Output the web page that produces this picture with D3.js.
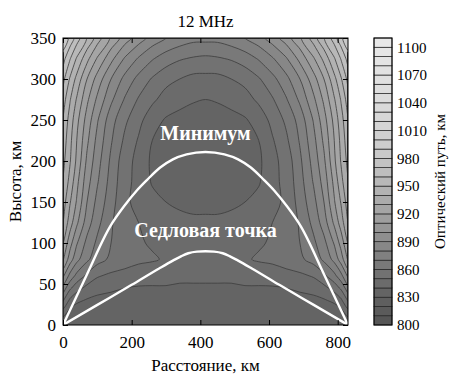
<!DOCTYPE html>
<html><head><meta charset="utf-8">
<script src="https://cdn.jsdelivr.net/npm/d3@7"></script>
<style>
  body { margin: 0; background: #fff; }
  svg text { font-family: "Liberation Serif", "Times New Roman", serif; }
</style>
</head><body>
<svg id="chart" width="449" height="376"></svg>
<script>
// grid columns (distance, km) and rows (height, km)
const distKm = [0, 20, 40, 70, 100, 140, 180, 220, 260, 300, 340, 380, 415, 450, 490, 530, 570, 610, 650, 690, 730, 760, 790, 810, 830];
const heightKm = [0, 15, 30, 45, 60, 80, 100, 125, 150, 175, 200, 225, 250, 275, 300, 325, 350];

// optical path (km), one array per height row
const path000 = [830, 830, 830, 830, 830, 830, 830, 830, 830, 830, 830, 830, 830, 830, 830, 830, 830, 830, 830, 830, 830, 830, 830, 830, 830];
const path015 = [845, 836, 834, 833, 832, 832, 832, 832, 832, 832, 832, 832, 832, 832, 832, 832, 832, 832, 832, 832, 832, 833, 834, 836, 845];
const path030 = [861, 848, 842, 839, 837, 836, 835, 835, 835, 835, 835, 835, 835, 835, 835, 835, 835, 835, 835, 836, 837, 839, 842, 848, 861];
const path045 = [876, 862, 854, 847, 844, 842, 840, 839, 839, 839, 838, 838, 838, 838, 838, 839, 839, 839, 840, 842, 844, 847, 854, 862, 876];
const path060 = [892, 877, 867, 858, 851, 848, 847, 845, 844, 844, 843, 843, 843, 843, 843, 844, 844, 845, 847, 848, 851, 858, 867, 877, 892];
const path080 = [911, 895, 883, 872, 864, 858, 854, 852, 851, 849, 849, 848, 848, 848, 849, 849, 851, 852, 854, 858, 864, 872, 883, 895, 911];
const path100 = [920, 904, 891, 877, 868, 860, 855, 851, 849, 848, 847, 846, 846, 846, 847, 848, 849, 851, 855, 860, 868, 877, 891, 904, 920];
const path125 = [930, 915, 902, 885, 873, 861, 854, 850, 846, 844, 843, 842, 842, 842, 843, 844, 846, 850, 854, 861, 873, 885, 902, 915, 930];
const path150 = [935, 921, 909, 890, 877, 864, 852, 847, 843, 840, 838, 837, 837, 837, 838, 840, 843, 847, 852, 864, 877, 890, 909, 921, 935];
const path175 = [939, 927, 913, 894, 881, 866, 853, 847, 839, 838, 836, 834, 834, 834, 836, 838, 839, 847, 853, 866, 881, 894, 913, 927, 939];
const path200 = [943, 931, 918, 898, 884, 868, 854, 847, 838, 837, 835, 833, 833, 833, 835, 837, 838, 847, 854, 868, 884, 898, 918, 931, 943];
const path225 = [946, 933, 920, 902, 887, 871, 858, 849, 840, 838, 835, 833, 833, 833, 835, 838, 840, 849, 858, 871, 887, 902, 920, 933, 946];
const path250 = [949, 936, 923, 906, 891, 874, 862, 853, 844, 839, 837, 835, 835, 835, 837, 839, 844, 853, 862, 874, 891, 906, 923, 936, 949];
const path275 = [955, 941, 929, 912, 898, 882, 869, 859, 852, 846, 843, 841, 840, 841, 843, 846, 852, 859, 869, 882, 898, 912, 929, 941, 955];
const path300 = [963, 949, 937, 920, 906, 890, 877, 867, 859, 853, 850, 847, 847, 847, 850, 853, 859, 867, 877, 890, 906, 920, 937, 949, 963];
const path325 = [974, 961, 949, 933, 919, 903, 889, 879, 871, 865, 861, 859, 858, 859, 861, 865, 871, 879, 889, 903, 919, 933, 949, 961, 974];
const path350 = [989, 977, 965, 949, 935, 918, 905, 895, 886, 880, 876, 873, 873, 873, 876, 880, 886, 895, 905, 918, 935, 949, 965, 977, 989];

// the two rays (white curves)
const highRayX = [0, 70, 137, 180, 215, 245, 283, 320, 360, 415, 470, 510, 547, 585, 615, 650, 693, 760, 830];
const highRayH = [0, 62, 120, 146, 164, 177, 192, 202, 208, 211, 208, 202, 192, 177, 164, 146, 120, 62, 0];
const lowRayX = [0, 100, 200, 280, 320, 345, 365, 390, 415, 440, 465, 485, 510, 550, 630, 730, 830];
const lowRayH = [0, 24.5, 49, 69, 78.5, 84, 87.5, 89.5, 90, 89.5, 87.5, 84, 78.5, 69, 49, 24.5, 0];

// axes and colour bar
const xTicks = [0, 200, 400, 600, 800];
const yTicks = [0, 50, 100, 150, 200, 250, 300, 350];
const barTicks = [800, 830, 860, 890, 920, 950, 980, 1010, 1040, 1070, 1100];
const levelStep = 10;
const levelMin = 800, levelMax = 1110;

const margin = { top: 38, right: 101, bottom: 51, left: 63 };
const W = 449, H = 376;
const width = W - margin.left - margin.right;
const height = H - margin.top - margin.bottom;

const svg = d3.select("#chart");

const x = d3.scaleLinear().domain([0, 830]).range([margin.left, margin.left + width]);
const y = d3.scaleLinear().domain([0, 350]).range([margin.top + height, margin.top]);

// grid index -> km (the grid is not evenly spaced)
const colToKm = d3.scaleLinear().domain(d3.range(distKm.length)).range(distKm).clamp(true);
const rowToKm = d3.scaleLinear().domain(d3.range(heightKm.length)).range(heightKm).clamp(true);

const grey = d3.scaleLinear()
  .domain([800, 830, 840, 850, 860, 880, 900, 920, 950, 980, 1010, 1050, 1100])
  .range([86, 100, 107, 114, 121, 135, 150, 165, 184, 201, 212, 222, 232]);
const fillOf = v => { const g = Math.round(grey(v)); return `rgb(${g},${g},${g})`; };

const rows = [path000, path015, path030, path045, path060, path080, path100, path125, path150,
              path175, path200, path225, path250, path275, path300, path325, path350];
const values = rows.flat();
const nx = distKm.length, ny = heightKm.length;

const levels = d3.range(levelMin, levelMax, levelStep);
const bands = d3.contours().size([nx, ny]).smooth(true).thresholds(levels)(values);

// contour rings -> pixel rings, drawn as smooth closed curves
const ringLine = d3.line().curve(d3.curveCatmullRomClosed.alpha(0.5));
function ringPath(ring) {
  const pts = [];
  ring.forEach(([cx, cy]) => {
    const p = [x(colToKm(cx - 0.5)), y(rowToKm(cy - 0.5))];
    const last = pts[pts.length - 1];
    if (!last || Math.abs(last[0] - p[0]) > 0.05 || Math.abs(last[1] - p[1]) > 0.05) pts.push(p);
  });
  if (pts.length > 1) {
    const a = pts[0], b = pts[pts.length - 1];
    if (Math.abs(a[0] - b[0]) < 0.05 && Math.abs(a[1] - b[1]) < 0.05) pts.pop();
  }
  return pts.length > 2 ? ringLine(pts) : "";
}
const bandPath = d => d.coordinates.map(poly => poly.map(ringPath).join("")).join("");

svg.append("clipPath").attr("id", "plotClip")
  .append("rect").attr("x", margin.left).attr("y", margin.top).attr("width", width).attr("height", height);

const plot = svg.append("g").attr("clip-path", "url(#plotClip)");
plot.append("rect").attr("x", margin.left).attr("y", margin.top)
  .attr("width", width).attr("height", height).attr("fill", fillOf(levelMin));

plot.selectAll("path.band").data(bands).join("path")
  .attr("class", "band")
  .attr("d", bandPath)
  .attr("fill", d => fillOf(d.value))
  .attr("stroke", "none");

plot.selectAll("path.iso").data(bands.filter(d => d.value > 830)).join("path")
  .attr("class", "iso")
  .attr("d", bandPath)
  .attr("fill", "none")
  .attr("stroke", "#3c3c3c")
  .attr("stroke-width", 0.8);

// rays
const ray = d3.line().x(d => x(d[0])).y(d => y(d[1])).curve(d3.curveMonotoneX);
plot.append("path").datum(highRayX.map((v, i) => [v, highRayH[i]]))
  .attr("d", ray).attr("fill", "none").attr("stroke", "#fff").attr("stroke-width", 2.4);
plot.append("path").datum(lowRayX.map((v, i) => [v, lowRayH[i]]))
  .attr("d", ray).attr("fill", "none").attr("stroke", "#fff").attr("stroke-width", 2.4);

// annotations
svg.append("text").attr("x", x(415)).attr("y", y(226)).attr("text-anchor", "middle")
  .attr("font-size", 20).attr("font-weight", "bold").attr("fill", "#fff").text("Минимум");
svg.append("text").attr("x", x(415)).attr("y", y(107)).attr("text-anchor", "middle")
  .attr("font-size", 20).attr("font-weight", "bold").attr("fill", "#fff").text("Седловая точка");

// axes, ticks pointing inwards on all four sides
const fmtAxis = g => {
  g.select(".domain").remove();
  g.attr("font-family", null);
  g.selectAll(".tick line").attr("stroke", "#000");
  g.selectAll(".tick text").attr("font-size", 17).attr("fill", "#000");
};
svg.append("g").attr("transform", `translate(0,${margin.top + height})`)
  .call(d3.axisBottom(x).tickValues(xTicks).tickSize(-5).tickPadding(11)).call(fmtAxis);
svg.append("g").attr("transform", `translate(0,${margin.top})`)
  .call(d3.axisTop(x).tickValues(xTicks).tickSize(-5).tickFormat("")).call(fmtAxis);
svg.append("g").attr("transform", `translate(${margin.left},0)`)
  .call(d3.axisLeft(y).tickValues(yTicks).tickSize(-5).tickPadding(7)).call(fmtAxis);
svg.append("g").attr("transform", `translate(${margin.left + width},0)`)
  .call(d3.axisRight(y).tickValues(yTicks).tickSize(-5).tickFormat("")).call(fmtAxis);

svg.append("rect").attr("x", margin.left).attr("y", margin.top).attr("width", width).attr("height", height)
  .attr("fill", "none").attr("stroke", "#000").attr("stroke-width", 1);

svg.append("text").attr("x", margin.left + width / 2).attr("y", 27).attr("text-anchor", "middle")
  .attr("font-size", 17).text("12 MHz");
svg.append("text").attr("x", margin.left + width / 2).attr("y", 371).attr("text-anchor", "middle")
  .attr("font-size", 17).text("Расстояние, км");
svg.append("text").attr("transform", `translate(21,${margin.top + height / 2}) rotate(-90)`)
  .attr("text-anchor", "middle").attr("font-size", 17).text("Высота, км");

// colour bar
const barX = 374, barW = 18;
const yBar = d3.scaleLinear().domain([levelMin, levelMax]).range([margin.top + height, margin.top]);
const bar = svg.append("g");
bar.selectAll("rect").data(levels).join("rect")
  .attr("x", barX).attr("width", barW)
  .attr("y", d => yBar(d + levelStep)).attr("height", d => yBar(d) - yBar(d + levelStep))
  .attr("fill", d => fillOf(d)).attr("stroke", "#222").attr("stroke-width", 0.7);
bar.append("rect").attr("x", barX).attr("y", margin.top).attr("width", barW).attr("height", height)
  .attr("fill", "none").attr("stroke", "#000").attr("stroke-width", 1);
bar.selectAll("text").data(barTicks).join("text")
  .attr("x", barX + barW + 5).attr("y", d => yBar(d)).attr("dy", "0.35em")
  .attr("font-size", 15).text(d => d);
svg.append("text").attr("transform", `translate(445,${margin.top + height / 2}) rotate(-90)`)
  .attr("text-anchor", "middle").attr("font-size", 15).text("Оптический путь, км");
</script></body></html>
